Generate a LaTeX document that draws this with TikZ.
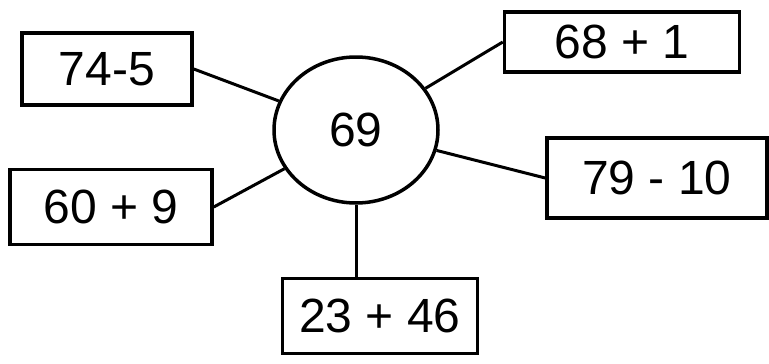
\documentclass[tikz,border=0pt]{standalone}
\usepackage{fontspec}
\setmainfont{Liberation Sans}
\usetikzlibrary{positioning}
\usetikzlibrary{shapes}
\tikzset{sum node/.style={rectangle,draw,line width=3.5pt,inner sep=0pt,font=\fontsize{48}{56}\selectfont},
         main node/.style={ellipse,draw,line width=3.5pt,inner sep=0pt,minimum width=164pt,minimum height=146pt,font=\fontsize{48}{56}\selectfont},}

\begin{document}
\begin{tikzpicture}[x=1pt, y=-1pt]
    \useasboundingbox (0,0) rectangle (769,364);
		\node[main node] (n69) at (356,130) {69};
	    \node[sum node, minimum width=170pt, minimum height=72pt] (a) at (107,69) {74-5};
	    \node[sum node, minimum width=235pt, minimum height=60pt] (b) at (622,42) {68 + 1};
	    \node[sum node, minimum width=202pt, minimum height=75pt] (c) at (111,207) {60 + 9};
	    \node[sum node, minimum width=220pt, minimum height=80pt] (d) at (657,178) {79 - 10};
	    \node[sum node, minimum width=195pt, minimum height=75pt] (e) at (380,316) {23 + 46};
	
	    \path[draw,line width=3pt]
	    (a.east) edge (n69)
	    (b.west) edge (n69)
	    (c.east) edge (n69)
	    (d.west) edge (n69)
	    (n69.south) edge (n69.south |- e.north);
\end{tikzpicture}
\end{document}
